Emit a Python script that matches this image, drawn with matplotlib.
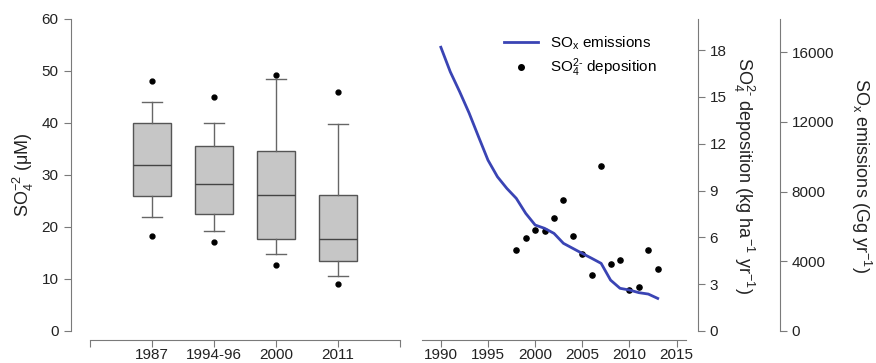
import matplotlib
matplotlib.use("Agg")
import matplotlib.pyplot as plt
from matplotlib.lines import Line2D

plt.rcParams['font.family'] = ['Liberation Sans', 'DejaVu Sans']
plt.rcParams['mathtext.default'] = 'regular'
plt.rcParams['font.size'] = 11

# left panel: SO4 concentration boxplots
periods = ['1987', '1994-96', '2000', '2011']
med = [32.0, 28.3, 26.2, 17.6]
q1 = [26.0, 22.5, 17.6, 13.4]
q3 = [40.0, 35.5, 34.7, 26.2]
whis_lo = [22.0, 19.2, 14.8, 10.5]
whis_hi = [44.0, 40.0, 48.5, 39.8]
out_hi = [48.0, 45.0, 49.3, 46.0]
out_lo = [18.2, 17.2, 12.6, 9.1]

# right panel: emissions line and deposition points
em_years = list(range(1990, 2014))
emissions = [16280, 14870, 13720, 12500, 11140, 9800, 8850, 8180, 7610, 6750,
             6080, 5890, 5600, 5030, 4740, 4450, 4170, 3880, 2920, 2450,
             2350, 2200, 2120, 1870]
dep_years = list(range(1998, 2014))
deposition = [5.21, 5.98, 6.49, 6.40, 7.23, 8.40, 6.06, 4.96, 3.62, 10.55,
              4.32, 4.53, 2.62, 2.83, 5.17, 3.98]

W, H = 876, 363
fig = plt.figure(figsize=(W / 100, H / 100), dpi=100)
grey = '#7a7a7a'
txt = '#222222'

def fx(px):
    return px / W

def fy(px):
    return 1 - px / H

# ---- left box plot
ax1 = fig.add_axes([fx(90), fy(331), fx(310), fy(19) - fy(331)])
stats = []
for i in range(len(periods)):
    stats.append(dict(med=med[i], q1=q1[i], q3=q3[i], whislo=whis_lo[i],
                      whishi=whis_hi[i], fliers=[out_lo[i], out_hi[i]],
                      label=periods[i]))
ax1.bxp(stats, positions=[1, 2, 3, 4], widths=0.62, capwidths=0.33,
        patch_artist=True,
        boxprops=dict(facecolor='#c6c6c6', edgecolor='#555555', linewidth=1),
        medianprops=dict(color='#444444', linewidth=1),
        whiskerprops=dict(color='#666666', linewidth=1),
        capprops=dict(color='#666666', linewidth=1),
        flierprops=dict(marker='o', markerfacecolor='black',
                        markeredgecolor='black', markersize=3.5))
ax1.set_xlim(0, 5)
ax1.set_ylim(0, 60)
ax1.set_xticks([0, 1, 2, 3, 4, 5])
ax1.set_xticklabels([''] + periods + [''])
ax1.set_yticks(range(0, 61, 10))
ax1.spines['top'].set_visible(False)
ax1.spines['right'].set_visible(False)
ax1.spines['left'].set_position(('outward', 14))
ax1.spines['bottom'].set_position(('outward', 6.5))
ax1.set_ylabel('SO$_4^{-2}$ (μM)', fontsize=13, color=txt, labelpad=4)

# ---- right panel
ax2 = fig.add_axes([fx(422), fy(331), fx(264), fy(19) - fy(331)])
ax2.set_xlim(1988, 2016)
ax2.set_ylim(0, 20)
ax2.scatter(dep_years, deposition, s=14, color='black', zorder=3)
ax2.set_xticks(range(1990, 2016, 5))
ax2.set_yticks(range(0, 19, 3))

ax3 = ax2.twinx()
ax3.set_ylim(0, 17900)
ax3.plot(em_years, emissions, color='#3a44b4', linewidth=2)
ax3.set_yticks(range(0, 16001, 4000))
for s in ['top', 'left', 'bottom']:
    ax3.spines[s].set_visible(False)
ax3.spines['right'].set_position(('outward', 67.7))
ax3.set_ylabel('SO$_x$ emissions (Gg yr$^{-1}$)', fontsize=13, color=txt,
               rotation=270, labelpad=28)

# twinx moves the ticks of ax2 back to the left, so set them after it
ax2.yaxis.tick_right()
ax2.yaxis.set_label_position('right')
ax2.spines['top'].set_visible(False)
ax2.spines['left'].set_visible(False)
ax2.spines['right'].set_visible(True)
ax2.spines['right'].set_position(('outward', 8.6))
ax2.spines['bottom'].set_position(('outward', 6.5))
ax2.set_ylabel('SO$_4^{2\u2010}$ deposition (kg ha$^{-1}$ yr$^{-1}$)',
               fontsize=13, color=txt, rotation=270, labelpad=21)

for ax in (ax1, ax2, ax3):
    for s in ax.spines.values():
        s.set_color(grey)
    ax.tick_params(colors=grey, labelcolor=txt, length=5, labelsize=11)
    ax.patch.set_visible(False)
ax1.tick_params(axis='x', pad=1)
ax2.tick_params(axis='x', pad=1)

handles = [Line2D([], [], color='#3a44b4', linewidth=2),
           Line2D([], [], linestyle='none', marker='o', color='black', markersize=4)]
ax3.legend(handles, ['SO$_x$ emissions', 'SO$_4^{2\u2010}$ deposition'],
           loc='upper left', bbox_to_anchor=(0.26, 0.995), frameon=False,
           handlelength=2.2, fontsize=11, labelspacing=0.3)

fig.savefig('out.png', dpi=100)
